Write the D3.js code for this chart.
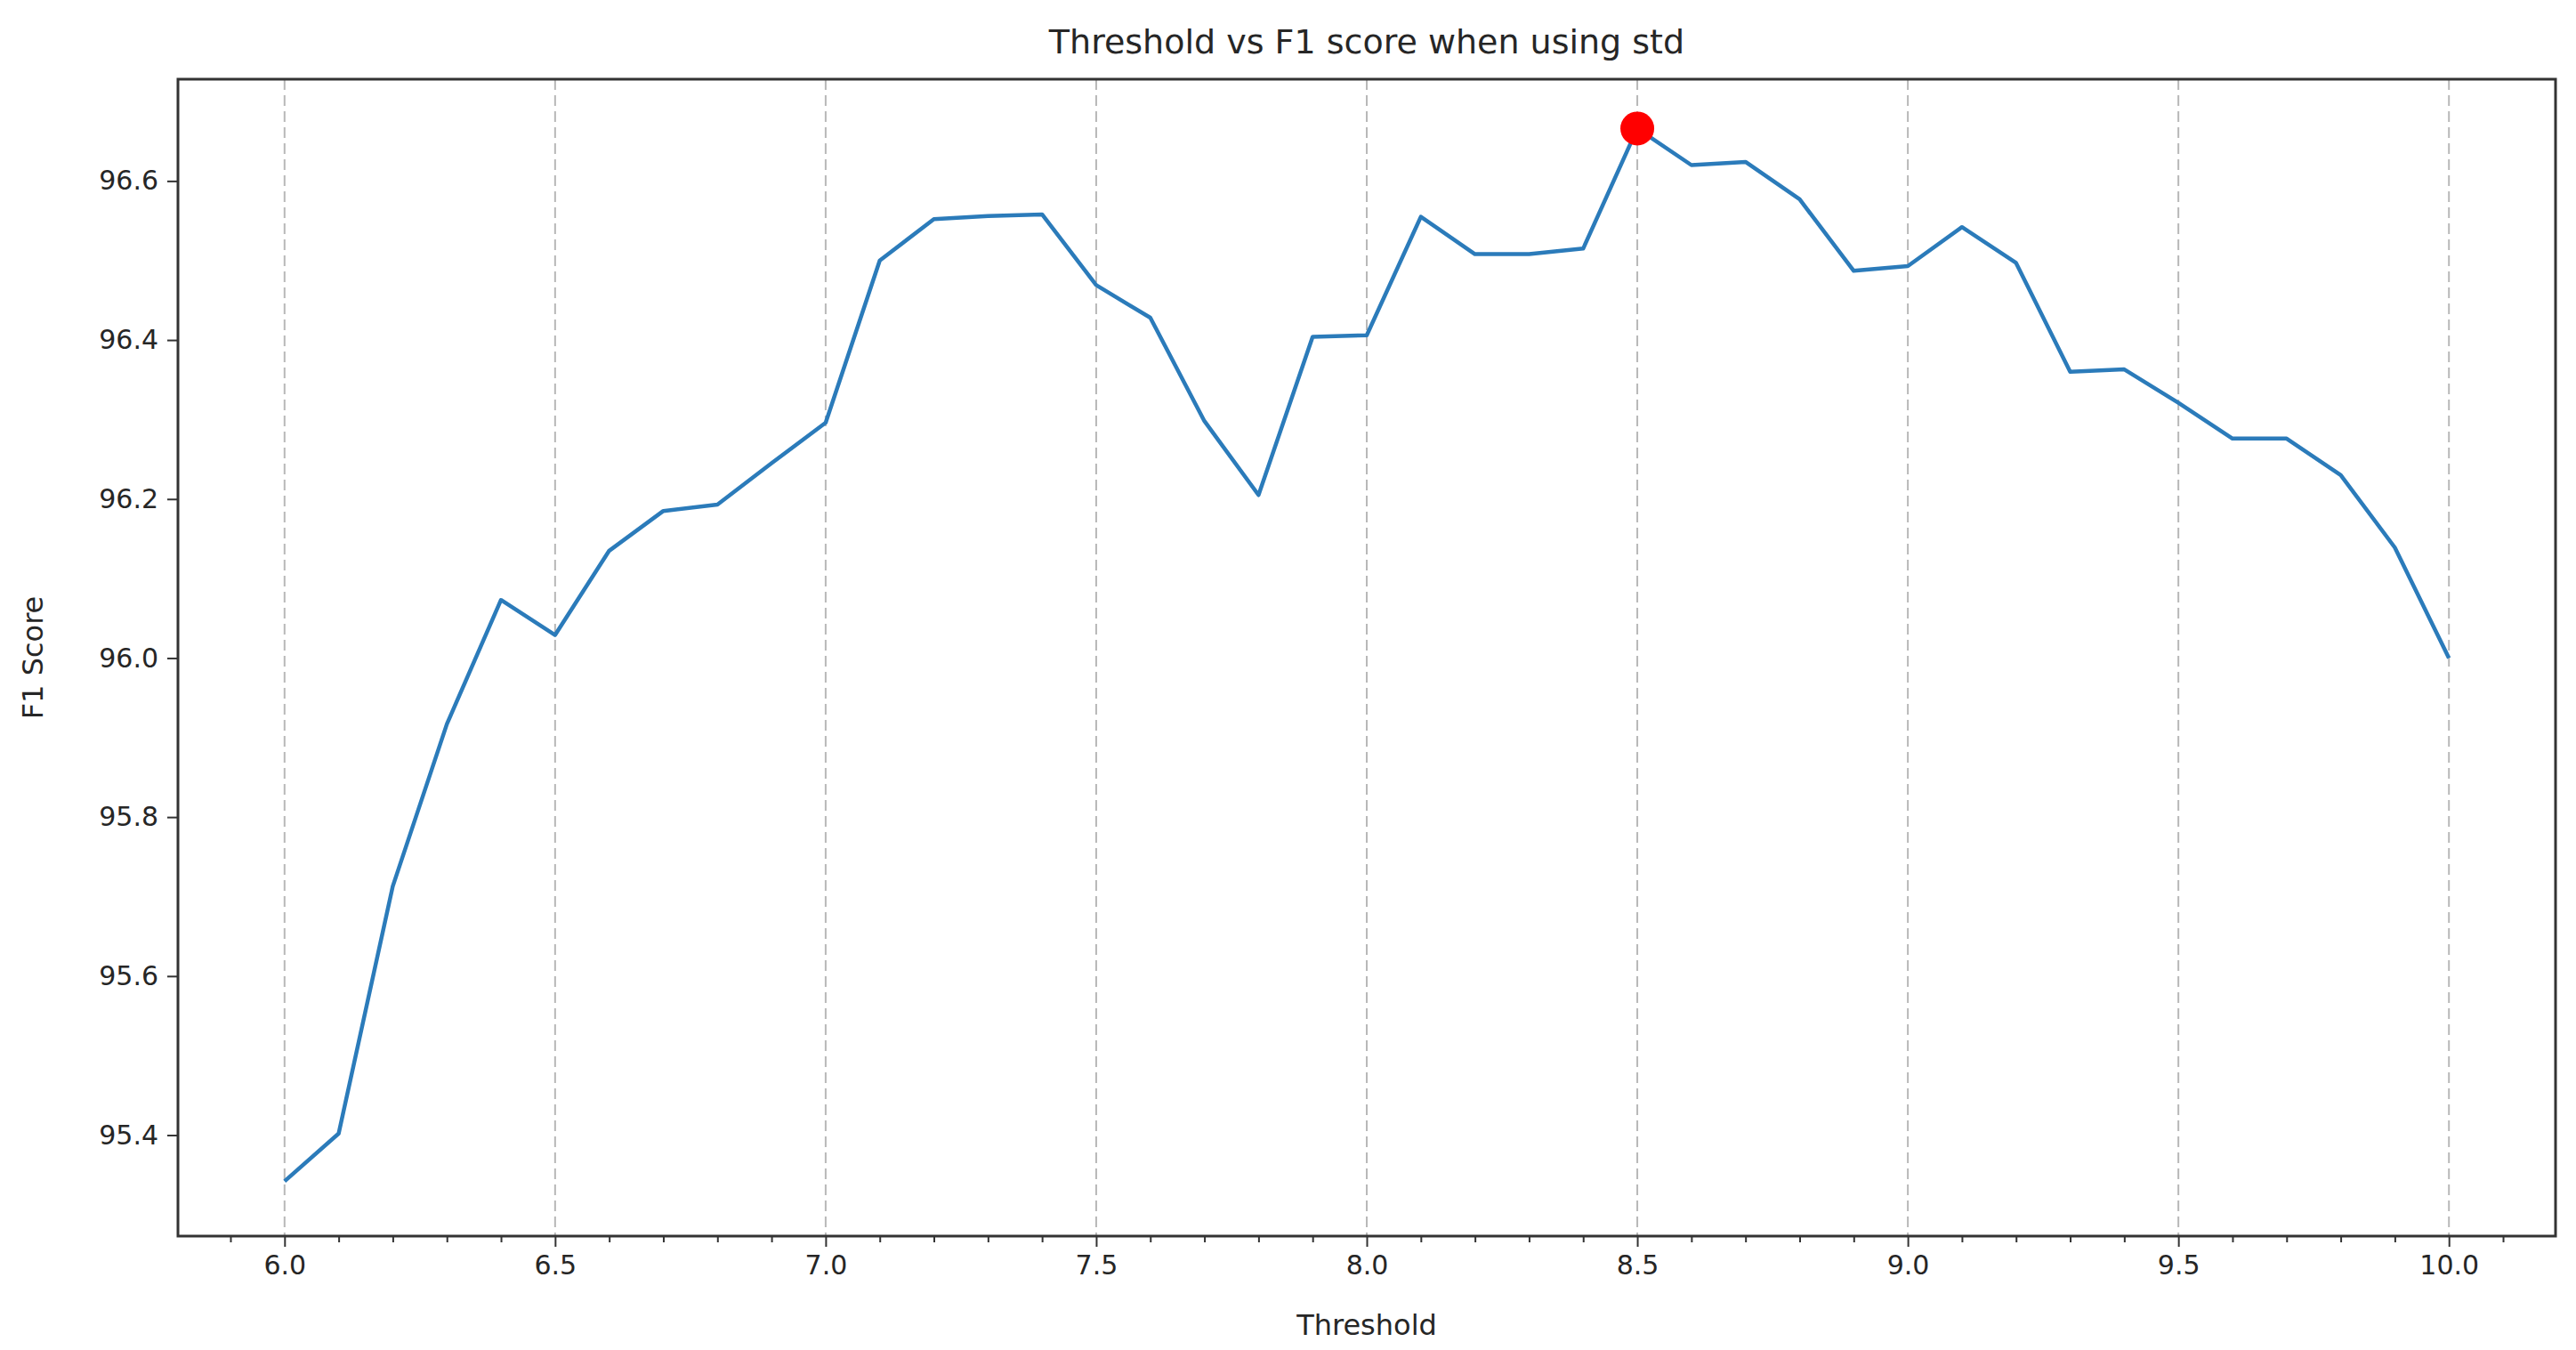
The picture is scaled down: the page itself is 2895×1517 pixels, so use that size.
<!DOCTYPE html>
<html>
<head>
<meta charset="utf-8">
<script src="https://cdn.jsdelivr.net/npm/d3@7"></script>
<style>
  body { margin: 0; background: white; }
  text { font-family: "DejaVu Sans", sans-serif; fill: #262626; }
</style>
</head>
<body>
<svg id="chart"></svg>
<script>
const width = 2895,
  height = 1517;

// thresholds and F1 scores
const thresholds = [6.0, 6.1, 6.2, 6.3, 6.4, 6.5, 6.6, 6.7, 6.8, 6.9,
  7.0, 7.1, 7.2, 7.3, 7.4, 7.5, 7.6, 7.7, 7.8, 7.9,
  8.0, 8.1, 8.2, 8.3, 8.4, 8.5, 8.6, 8.7, 8.8, 8.9,
  9.0, 9.1, 9.2, 9.3, 9.4, 9.5, 9.6, 9.7, 9.8, 9.9, 10.0];
const f1Scores = [95.342, 95.402, 95.713, 95.917, 96.073, 96.029, 96.135, 96.185, 96.193, 96.245,
  96.296, 96.500, 96.552, 96.556, 96.558, 96.469, 96.428, 96.298, 96.205, 96.404,
  96.406, 96.555, 96.508, 96.508, 96.515, 96.666, 96.620, 96.624, 96.577, 96.487,
  96.493, 96.542, 96.497, 96.360, 96.363, 96.321, 96.276, 96.276, 96.230, 96.139, 96.000];
const xTicks = [6.0, 6.5, 7.0, 7.5, 8.0, 8.5, 9.0, 9.5, 10.0];
const yTicks = [95.4, 95.6, 95.8, 96.0, 96.2, 96.4, 96.6];
const best = { threshold: 8.5, score: 96.666 };

const margin = { top: 89, right: 23, bottom: 128, left: 200 };

const x = d3.scaleLinear()
  .domain([5.803, 10.197])
  .range([margin.left, width - margin.right]);
const y = d3.scaleLinear()
  .domain([95.273, 96.728])
  .range([height - margin.bottom, margin.top]);

const svg = d3.select("#chart")
  .attr("width", width)
  .attr("height", height)
  .attr("viewBox", [0, 0, width, height]);

// vertical dashed grid
svg.append("g")
  .selectAll("line")
  .data(xTicks)
  .join("line")
  .attr("x1", d => x(d)).attr("x2", d => x(d))
  .attr("y1", margin.top).attr("y2", height - margin.bottom)
  .attr("stroke", "#b8b8b8")
  .attr("stroke-width", 2)
  .attr("stroke-dasharray", "12,6");

// x axis with minor ticks
const minor = d3.range(59, 102).map(d => d / 10).filter(d => !xTicks.some(t => Math.abs(t - d) < 1e-6));
svg.append("g")
  .attr("transform", `translate(0,${height - margin.bottom})`)
  .call(d3.axisBottom(x).tickValues(minor).tickSize(7).tickFormat(""))
  .call(g => g.select(".domain").remove())
  .call(g => g.selectAll("line").attr("stroke", "#333").attr("stroke-width", 2));

svg.append("g")
  .attr("transform", `translate(0,${height - margin.bottom})`)
  .call(d3.axisBottom(x).tickValues(xTicks).tickSize(12).tickPadding(10).tickFormat(d3.format(".1f")))
  .call(g => g.select(".domain").remove())
  .call(g => g.selectAll("line").attr("stroke", "#333").attr("stroke-width", 2))
  .call(g => g.selectAll("text").attr("font-size", 30).attr("font-family", "DejaVu Sans").attr("fill", "#262626"));

svg.append("g")
  .attr("transform", `translate(${margin.left},0)`)
  .call(d3.axisLeft(y).tickValues(yTicks).tickSize(12).tickPadding(10).tickFormat(d3.format(".1f")))
  .call(g => g.select(".domain").remove())
  .call(g => g.selectAll("line").attr("stroke", "#333").attr("stroke-width", 2))
  .call(g => g.selectAll("text").attr("font-size", 30).attr("font-family", "DejaVu Sans").attr("fill", "#262626"));

// frame
svg.append("rect")
  .attr("x", margin.left).attr("y", margin.top)
  .attr("width", width - margin.left - margin.right)
  .attr("height", height - margin.top - margin.bottom)
  .attr("fill", "none")
  .attr("stroke", "#333")
  .attr("stroke-width", 3);

// line
const line = d3.line()
  .x((d, i) => x(thresholds[i]))
  .y(d => y(d));

svg.append("path")
  .datum(f1Scores)
  .attr("d", line)
  .attr("fill", "none")
  .attr("stroke", "#2b7bba")
  .attr("stroke-width", 4.5)
  .attr("stroke-linejoin", "round");

// best point
svg.append("circle")
  .attr("cx", x(best.threshold))
  .attr("cy", y(best.score))
  .attr("r", 19)
  .attr("fill", "red");

// labels
svg.append("text")
  .attr("x", (margin.left + width - margin.right) / 2)
  .attr("y", 60)
  .attr("text-anchor", "middle")
  .attr("font-size", 38)
  .text("Threshold vs F1 score when using std");

svg.append("text")
  .attr("x", (margin.left + width - margin.right) / 2)
  .attr("y", 1500)
  .attr("text-anchor", "middle")
  .attr("font-size", 32)
  .text("Threshold");

svg.append("text")
  .attr("transform", `translate(48,${(margin.top + height - margin.bottom) / 2}) rotate(-90)`)
  .attr("text-anchor", "middle")
  .attr("font-size", 32)
  .text("F1 Score");
</script>
</body>
</html>
